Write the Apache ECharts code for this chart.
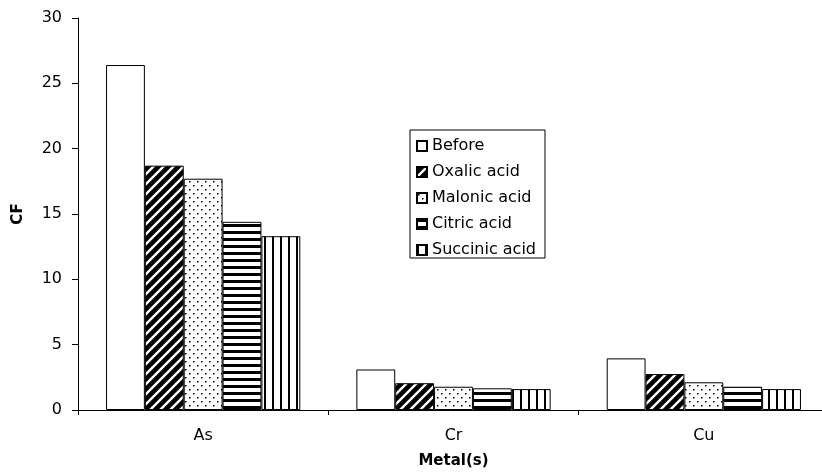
<!DOCTYPE html>
<html>
<head>
<meta charset="utf-8">
<script src="https://cdn.jsdelivr.net/npm/echarts@6/dist/echarts.min.js"></script>
<style>
html,body{margin:0;padding:0;background:#fff;}
#chart{width:822px;height:475px;}
</style>
</head>
<body>
<div id="chart"></div>
<script>
const categories = ['As', 'Cr', 'Cu'];
const seriesNames = ['Before', 'Oxalic acid', 'Malonic acid', 'Citric acid', 'Succinic acid'];
const before = [26.4, 3.1, 3.95];
const oxalic = [18.7, 2.05, 2.75];
const malonic = [17.7, 1.78, 2.12];
const citric = [14.4, 1.66, 1.78];
const succinic = [13.3, 1.6, 1.6];
const yTicks = [0, 5, 10, 15, 20, 25, 30];

function tile(w, h, draw) {
  const c = document.createElement('canvas');
  c.width = w; c.height = h;
  const ctx = c.getContext('2d');
  ctx.fillStyle = '#fff';
  ctx.fillRect(0, 0, w, h);
  draw(ctx, w, h);
  return { image: c, repeat: 'repeat' };
}

const patBefore = '#ffffff';
const patOxalic = tile(10, 10, (ctx, w, h) => {
  ctx.fillStyle = '#000';
  ctx.fillRect(0, 0, w, h);
  ctx.strokeStyle = '#fff';
  ctx.lineWidth = 2.4;
  ctx.beginPath();
  ctx.moveTo(-2, h + 2); ctx.lineTo(w + 2, -2);
  ctx.moveTo(-2, 2); ctx.lineTo(2, -2);
  ctx.moveTo(w - 2, h + 2); ctx.lineTo(w + 2, h - 2);
  ctx.stroke();
});
const patMalonic = tile(8, 8, (ctx) => {
  ctx.fillStyle = '#000';
  ctx.fillRect(1, 1, 1.5, 1.5);
  ctx.fillRect(5, 5, 1.5, 1.5);
});
const patCitric = tile(7, 7, (ctx, w) => {
  ctx.fillStyle = '#000';
  ctx.fillRect(0, 0, w, 3);
});
const patSuccinic = tile(8, 8, (ctx, w, h) => {
  ctx.fillStyle = '#000';
  ctx.fillRect(0, 0, 2, h);
});

const fills = [patBefore, patOxalic, patMalonic, patCitric, patSuccinic];
const values = [before, oxalic, malonic, citric, succinic];

const chart = echarts.init(document.getElementById('chart'), null, { renderer: 'canvas' });
const font = '"DejaVu Sans", "Liberation Sans", Arial, sans-serif';

chart.setOption({
  animation: false,
  backgroundColor: '#fff',
  textStyle: { fontFamily: font },
  grid: { left: 78, right: -7, top: 18, bottom: 65, containLabel: false, outerBoundsMode: 'none' },
  legend: {
    orient: 'vertical',
    left: 410,
    top: 130,
    backgroundColor: '#fff',
    borderColor: '#000',
    borderWidth: 1,
    borderRadius: 0,
    padding: [8, 9, 0, 6],
    itemWidth: 10,
    itemHeight: 10,
    itemGap: 10,
    icon: 'rect',
    textStyle: { fontSize: 16, color: '#000', fontFamily: font },
    data: seriesNames
  },
  xAxis: {
    type: 'category',
    data: categories,
    name: 'Metal(s)',
    nameLocation: 'middle',
    nameGap: 44,
    nameTextStyle: { fontSize: 15, fontWeight: 'bold', color: '#000', fontFamily: font },
    axisLine: { lineStyle: { color: '#000', width: 1 } },
    axisTick: { show: true, length: 5, lineStyle: { color: '#000' } },
    axisLabel: { fontSize: 16, color: '#000', margin: 18, fontFamily: font },
    splitLine: { show: false }
  },
  yAxis: {
    type: 'value',
    min: 0,
    max: 30,
    interval: 5,
    name: 'CF',
    nameLocation: 'middle',
    nameGap: 52,
    nameRotate: 90,
    nameTextStyle: { fontSize: 15, fontWeight: 'bold', color: '#000', fontFamily: font },
    axisLine: { show: true, lineStyle: { color: '#000', width: 1 } },
    axisTick: { show: true, length: 6, lineStyle: { color: '#000' } },
    axisLabel: { fontSize: 16, color: '#000', margin: 16, fontFamily: font,
      formatter: v => yTicks.includes(v) ? String(v) : '' },
    splitLine: { show: false }
  },
  series: seriesNames.map((name, i) => ({
    name: name,
    type: 'bar',
    data: values[i],
    barGap: '0%',
    barCategoryGap: '22.4%',
    itemStyle: { color: fills[i], borderColor: '#000', borderWidth: 1 },
    emphasis: { disabled: true }
  }))
});
</script>
</body>
</html>
